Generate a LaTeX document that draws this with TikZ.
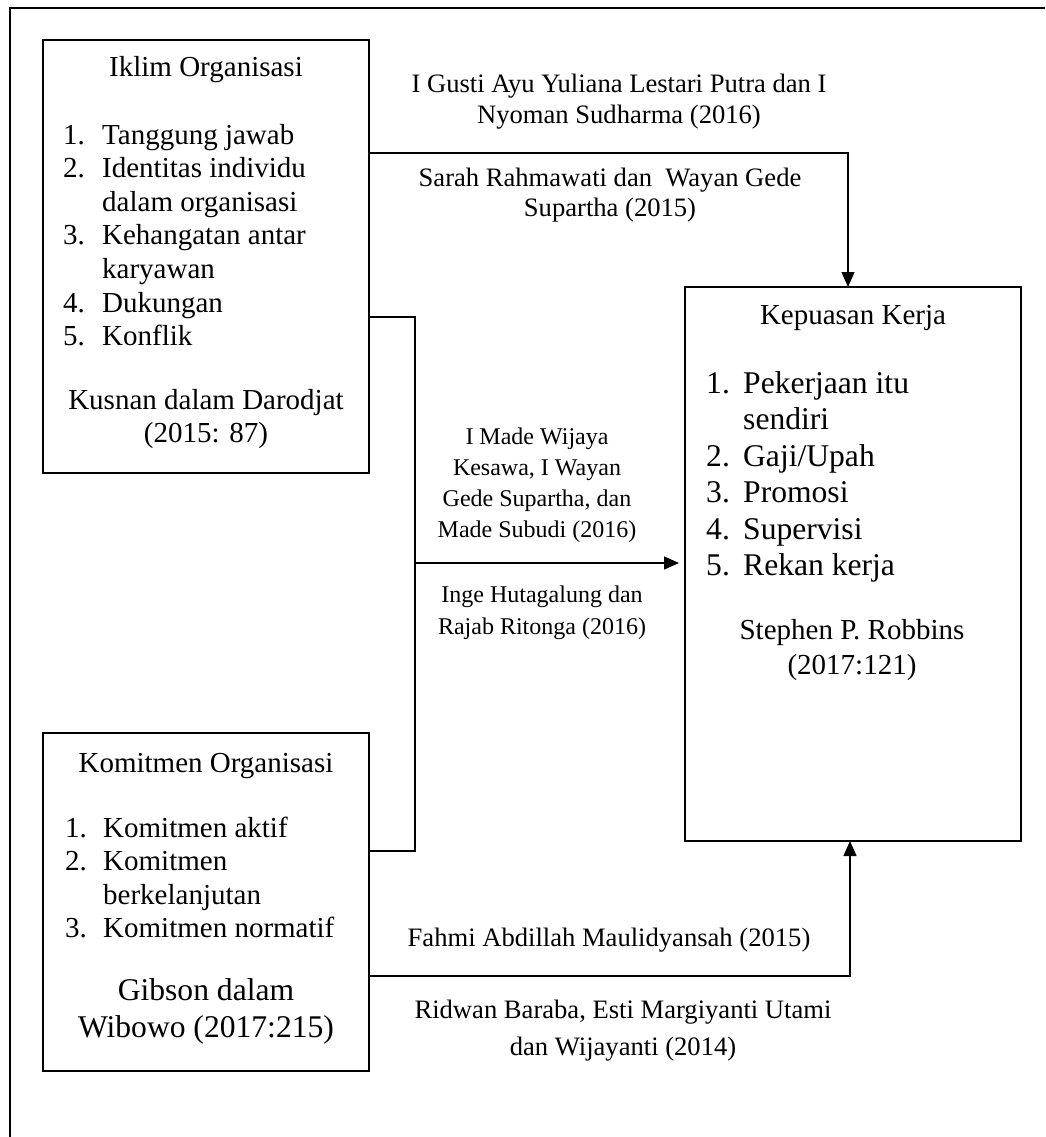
\documentclass[tikz,border=0pt]{standalone}
\usepackage{fontspec}
\setmainfont{Liberation Serif}
\usetikzlibrary{arrows.meta}
\newcommand\inum[2][39pt]{\makebox[#1][l]{#2}}
\begin{document}
\begin{tikzpicture}[x=1pt,y=-1pt,
  box/.style={draw, line width=1.5pt, inner sep=0pt, outer sep=0pt},
  conn/.style={line width=1.5pt},
  arr/.style={line width=1.5pt, -{Triangle[length=15pt,width=13pt]}},
  frame/.style={line width=1.8pt},
  body/.style={inner sep=0pt, anchor=base, font=\fontsize{29pt}{33.6pt}\selectfont},
  big/.style={inner sep=0pt, anchor=base, font=\fontsize{31.6pt}{36.4pt}\selectfont},
  lbl/.style={inner sep=0pt, anchor=base, font=\fontsize{26.6pt}{30.5pt}\selectfont},
  small/.style={inner sep=0pt, anchor=base, font=\fontsize{24pt}{31pt}\selectfont},
]
\useasboundingbox (0,0) rectangle (1045,1137);
% outer frame (top and left only)
\draw[frame] (10,1137) -- (10,8) -- (1045,8);

% boxes
\node[box, minimum width=326pt, minimum height=433pt] (iklim) at (206,256.5) {};
\node[box, minimum width=326pt, minimum height=338pt] (komitmen) at (206,902) {};
\node[box, minimum width=336pt, minimum height=554pt] (kepuasan) at (853,564) {};

% Iklim Organisasi
\node[body] (iklimT) at (206,77) {Iklim Organisasi};
\node[body, anchor=base west] (iklimL) at (63,144) {\begin{tabular}[t]{@{}l@{}}
\inum{1.}Tanggung jawab\\
\inum{2.}Identitas individu\\
\inum{}dalam organisasi\\
\inum{3.}Kehangatan antar\\
\inum{}karyawan\\
\inum{4.}Dukungan\\
\inum{5.}Konflik\end{tabular}};
\node[body] (iklimS) at (206,409) {\begin{tabular}[t]{@{}c@{}}Kusnan dalam Darodjat\\(2015: 87)\end{tabular}};

% Komitmen Organisasi
\node[body] (komT) at (206,772) {Komitmen Organisasi};
\node[body, anchor=base west] (komL) at (65,837) {\begin{tabular}[t]{@{}l@{}}
\inum[38pt]{1.}Komitmen aktif\\
\inum[38pt]{2.}Komitmen\\
\inum[38pt]{}berkelanjutan\\
\inum[38pt]{3.}Komitmen normatif\end{tabular}};
\node[big, font=\fontsize{31.6pt}{37pt}\selectfont] (komS) at (206,1000) {\begin{tabular}[t]{@{}c@{}}Gibson dalam\\Wibowo (2017:215)\end{tabular}};

% Kepuasan Kerja
\node[body] (kepT) at (853,324) {Kepuasan Kerja};
\node[big, anchor=base west] (kepL) at (706,393.5) {\begin{tabular}[t]{@{}l@{}}
\inum[37pt]{1.}Pekerjaan itu\\
\inum[37pt]{}sendiri\\
\inum[37pt]{2.}Gaji/Upah\\
\inum[37pt]{3.}Promosi\\
\inum[37pt]{4.}Supervisi\\
\inum[37pt]{5.}Rekan kerja\end{tabular}};
\node[body, font=\fontsize{29pt}{35pt}\selectfont] (kepS) at (852,639) {\begin{tabular}[t]{@{}c@{}}Stephen P. Robbins\\(2017:121)\end{tabular}};

% connectors
\coordinate (j1) at (848,153);
\draw[arr] (iklim.east |- j1) -| (kepuasan.north -| j1);

\coordinate (b1) at (415,317);
\coordinate (b2) at (415,851);
\coordinate (bm) at (415,563);
\draw[conn] (iklim.east |- b1) -- (b1) -- (b2) -- (komitmen.east |- b2);
\draw[arr, shorten >=6pt] (bm) -- (kepuasan.west |- bm);

\coordinate (j3) at (850,976);
\draw[arr] (komitmen.east |- j3) -| (kepuasan.south -| j3);

% connector labels
\node[lbl] (l1) at (619,93) {\begin{tabular}[t]{@{}c@{}}I Gusti Ayu Yuliana Lestari Putra dan I\\Nyoman Sudharma (2016)\end{tabular}};
\node[lbl] (l2) at (610,186) {\begin{tabular}[t]{@{}c@{}}Sarah Rahmawati dan~ Wayan Gede\\Supartha (2015)\end{tabular}};
\node[small] (l3) at (537,444) {\begin{tabular}[t]{@{}c@{}}I Made Wijaya\\Kesawa, I Wayan\\Gede Supartha, dan\\Made Subudi (2016)\end{tabular}};
\node[small, font=\fontsize{24pt}{32pt}\selectfont] (l4) at (542,602) {\begin{tabular}[t]{@{}c@{}}Inge Hutagalung dan\\Rajab Ritonga (2016)\end{tabular}};
\node[lbl] (l5) at (609,946) {Fahmi Abdillah Maulidyansah (2015)};
\node[lbl, font=\fontsize{26.6pt}{37pt}\selectfont] (l6) at (623,1018) {\begin{tabular}[t]{@{}c@{}}Ridwan Baraba, Esti Margiyanti Utami\\dan Wijayanti (2014)\end{tabular}};
\end{tikzpicture}
\end{document}
